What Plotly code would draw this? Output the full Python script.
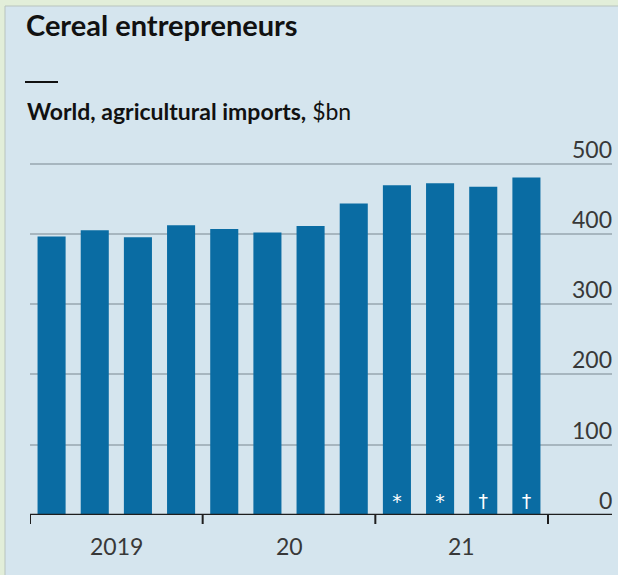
import plotly.graph_objects as go

# Data
quarters = ["2019 Q1", "2019 Q2", "2019 Q3", "2019 Q4",
            "2020 Q1", "2020 Q2", "2020 Q3", "2020 Q4",
            "2021 Q1", "2021 Q2", "2021 Q3", "2021 Q4"]
imports_bn = [396, 405, 395, 412, 407, 402, 411, 443, 469, 472, 467, 480]
notes = ["", "", "", "", "", "", "", "", "*", "*", "†", "†"]
year_labels = ["2019", "20", "21"]
y_ticks = [0, 100, 200, 300, 400, 500]

W, H = 618, 575
ML, MR, MT, MB = 30, 6, 162, 60
plot_w = W - ML - MR
plot_h = H - MT - MB
unit_px = 518 / 12.0
x_max = -0.5 + plot_w / unit_px
y_top = 500 * plot_h / (515 - 163.5)

def px_x(px):
    return (px - ML) / plot_w

def px_y(py):
    return (H - MB - py) / plot_h

xs = list(range(len(quarters)))

fig = go.Figure()
fig.add_trace(go.Bar(
    x=xs, y=imports_bn, width=0.65,
    marker=dict(color="#0a6ca3", line=dict(width=0)),
    text=notes, textposition="inside", insidetextanchor="start",
    textangle=0, textfont=dict(color="white", size=19, family="DejaVu Sans"),
    hovertext=quarters, cliponaxis=False,
))

BLUE_BG = "#d5e5ee"
GREEN = "#e2eed9"
DARK = "#1e1e1e"
TXT = "#383838"
FONT = "Lato"

n_years = len(year_labels)
per_year = 4
tick_pos = [i * per_year - 0.5 for i in range(n_years + 1)]

fig.update_layout(
    width=W, height=H,
    margin=dict(l=ML, r=MR, t=MT, b=MB),
    paper_bgcolor=BLUE_BG, plot_bgcolor="rgba(0,0,0,0)",
    showlegend=False,
    font=dict(family=FONT, color=TXT),
    xaxis=dict(range=[-0.5, x_max], showgrid=False, zeroline=False,
               showline=False, showticklabels=False, ticks="",
               fixedrange=True),
    yaxis=dict(range=[0, y_top], tickvals=y_ticks[1:],
               showticklabels=False, showgrid=True,
               gridcolor="#a7b6bf", gridwidth=1.5, zeroline=False,
               showline=False, ticks="", fixedrange=True),
    bargap=0.35,
)

# y labels above gridlines on the right
for v in y_ticks:
    fig.add_annotation(x=1, y=v, xref="paper", yref="y", text=str(v),
                       showarrow=False, xanchor="right", yanchor="bottom",
                       yshift=-1, xshift=2,
                       font=dict(size=23, family=FONT, color=TXT))

# year boundary ticks
for t in tick_pos:
    fig.add_shape(type="line", xref="x", yref="paper", x0=t, x1=t,
                  y0=0, y1=px_y(524), line=dict(color=DARK, width=2),
                  layer="above")

# baseline (dark) across the full width
fig.add_shape(type="line", xref="paper", yref="y", x0=0, x1=1, y0=0, y1=0,
              line=dict(color=DARK, width=2.5), layer="above")

# year labels
for i, lab in enumerate(year_labels):
    fig.add_annotation(x=i * per_year + (per_year - 1) / 2, y=px_y(546),
                       xref="x", yref="paper", text=lab, showarrow=False,
                       font=dict(size=23, family=FONT, color=TXT),
                       xanchor="center", yanchor="middle")

# title & subtitle
fig.add_annotation(x=px_x(24), y=px_y(24), xref="paper", yref="paper",
                   text="<b>Cereal entrepreneurs</b>", showarrow=False,
                   xanchor="left", yanchor="middle",
                   font=dict(size=29, family=FONT, color="#111111"))
fig.add_annotation(x=px_x(25), y=px_y(111), xref="paper", yref="paper",
                   text="<b>World, agricultural imports,</b> $bn", showarrow=False,
                   xanchor="left", yanchor="middle",
                   font=dict(size=23, family=FONT, color="#111111"))
fig.add_shape(type="line", xref="paper", yref="paper",
              x0=px_x(25), x1=px_x(58), y0=px_y(82), y1=px_y(82),
              line=dict(color="#111111", width=2))

# green frame strips (top and left)
fig.add_shape(type="rect", xref="paper", yref="paper",
              x0=px_x(0), x1=px_x(W), y0=px_y(0), y1=px_y(6),
              fillcolor=GREEN, line=dict(width=0), layer="above")
fig.add_shape(type="rect", xref="paper", yref="paper",
              x0=px_x(0), x1=px_x(5), y0=px_y(H), y1=px_y(0),
              fillcolor=GREEN, line=dict(width=0), layer="above")
fig.add_shape(type="line", xref="paper", yref="paper",
              x0=px_x(5), x1=px_x(W), y0=px_y(6), y1=px_y(6),
              line=dict(color="#b9c4bd", width=1), layer="above")
fig.add_shape(type="line", xref="paper", yref="paper",
              x0=px_x(5), x1=px_x(5), y0=px_y(6), y1=px_y(H),
              line=dict(color="#b9c4bd", width=1), layer="above")

fig.write_html("out.html", config={"displayModeBar": False})
